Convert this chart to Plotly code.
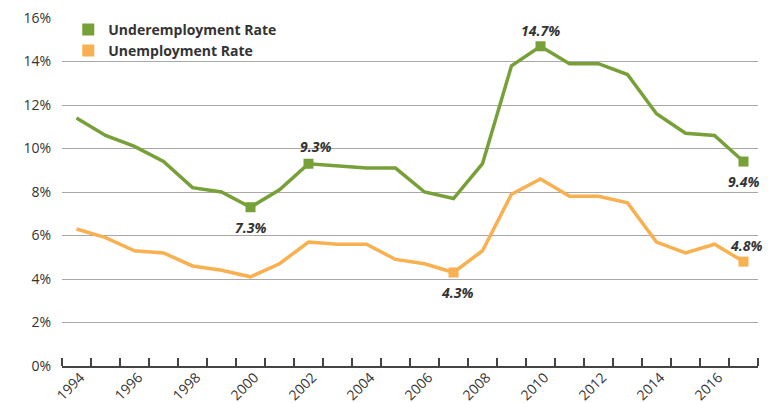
import plotly.graph_objects as go

years = list(range(1994, 2018))
underemployment = [11.4, 10.6, 10.1, 9.4, 8.2, 8.0, 7.3, 8.1, 9.3, 9.2, 9.1, 9.1,
                   8.0, 7.7, 9.3, 13.8, 14.7, 13.9, 13.9, 13.4, 11.6, 10.7, 10.6, 9.4]
unemployment = [6.3, 5.9, 5.3, 5.2, 4.6, 4.4, 4.1, 4.7, 5.7, 5.6, 5.6, 4.9,
                4.7, 4.3, 5.3, 7.9, 8.6, 7.8, 7.8, 7.5, 5.7, 5.2, 5.6, 4.8]
year_labels = [str(y) for y in range(1994, 2017, 2)]
y_ticks = [0, 2, 4, 6, 8, 10, 12, 14, 16]

GREEN = "#77a038"
ORANGE = "#f9b050"
TEXT = "#333333"
FONT = "Open Sans"

# (series, year, label text, x shift px, y shift px)
callouts = [
    ("under", 2000, "7.3%", 0, -20),
    ("under", 2002, "9.3%", 7, 17),
    ("under", 2010, "14.7%", 0, 16),
    ("under", 2017, "9.4%", 0, -20),
    ("unemp", 2007, "4.3%", 3, -20),
    ("unemp", 2017, "4.8%", 2, 16),
]

series = {"under": (underemployment, GREEN), "unemp": (unemployment, ORANGE)}

fig = go.Figure()

# main lines
for key, name in [("under", "Underemployment Rate"), ("unemp", "Unemployment Rate")]:
    vals, col = series[key]
    fig.add_trace(go.Scatter(x=years, y=vals, mode="lines", name=name,
                             line=dict(color=col, width=3.5), showlegend=False,
                             hoverinfo="skip"))

# square markers and value labels on highlighted points
for key, yr, txt, dx, dy in callouts:
    vals, col = series[key]
    v = vals[years.index(yr)]
    fig.add_trace(go.Scatter(x=[yr], y=[v], mode="markers", showlegend=False,
                             marker=dict(symbol="square", size=10, color=col),
                             hoverinfo="skip"))
    fig.add_annotation(x=yr, y=v, text=f"<b><i>{txt}</i></b>", showarrow=False,
                       xshift=dx, yshift=dy,
                       font=dict(family=FONT, size=14, color=TEXT))

# legend entries
for name, col in [("Underemployment Rate", GREEN), ("Unemployment Rate", ORANGE)]:
    fig.add_trace(go.Scatter(x=[None], y=[None], mode="markers", name=name,
                             marker=dict(symbol="square", size=12, color=col)))

fig.update_layout(
    width=768, height=403,
    margin=dict(l=62, r=10, t=18, b=37, autoexpand=False),
    paper_bgcolor="white", plot_bgcolor="white",
    font=dict(family=FONT, size=14, color=TEXT),
    legend=dict(x=0.009, y=1.012, xanchor="left", yanchor="top",
                bgcolor="rgba(0,0,0,0)", tracegroupgap=0,
                font=dict(family=FONT, size=14, color=TEXT, weight="bold"),
                itemsizing="trace"),
    xaxis=dict(range=[1993.5, 2017.5], showgrid=False, zeroline=False,
               tickmode="array", tickvals=list(range(1994, 2017, 2)),
               ticktext=year_labels, tickangle=-45, ticks="",
               ticklabelstandoff=-4, ticklabelshift=4,
               tickfont=dict(family=FONT, size=14, color=TEXT),
               showline=True, linecolor="#444444", linewidth=1.5,
               automargin=False,
               minor=dict(tickmode="linear", tick0=1993.5, dtick=1,
                          ticks="inside", ticklen=8, tickwidth=1.5,
                          tickcolor="#444444", showgrid=False),
               fixedrange=True),
    yaxis=dict(range=[0, 16], tickmode="array", tickvals=y_ticks,
               ticktext=[f"{v}%" for v in y_ticks],
               showgrid=True, gridcolor="#a8a8a8", gridwidth=1,
               zeroline=False, showline=False, ticks="",
               ticklabelstandoff=10, automargin=False,
               tickfont=dict(family=FONT, size=14, color=TEXT),
               fixedrange=True),
)

fig.write_html("out.html")
